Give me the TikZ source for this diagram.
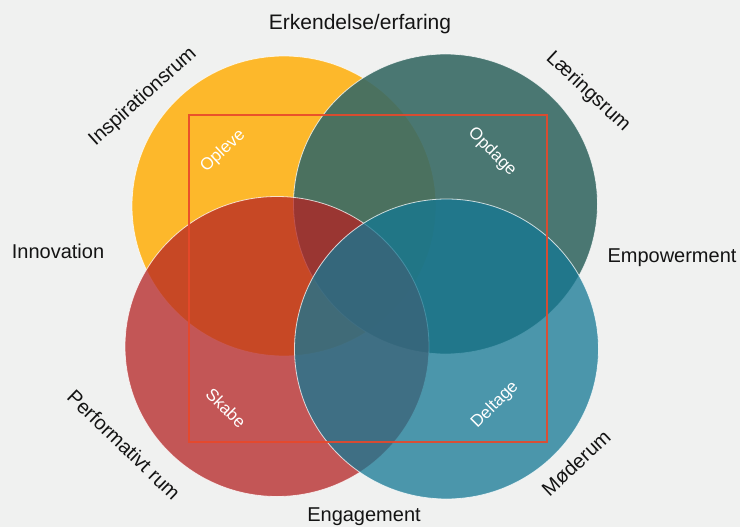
\documentclass[tikz,border=0pt]{standalone}
\usepackage{fontspec}
\setmainfont{Liberation Sans}
\definecolor{bgc}{RGB}{240,241,240}
\definecolor{cyel}{RGB}{253,184,43}
\definecolor{cteal}{RGB}{56,106,101}
\definecolor{cred}{RGB}{181,35,35}
\definecolor{cblue}{RGB}{20,120,148}
\definecolor{crect}{RGB}{232,72,42}
\definecolor{ctext}{RGB}{20,20,20}
\begin{document}
\begin{tikzpicture}[x=1pt,y=-1pt,
  ring/.style={draw=white, draw opacity=0.75, line width=0.8pt},
  outerlab/.style={text=ctext, font=\fontsize{20}{24}\selectfont, inner sep=0pt},
  innerlab/.style={text=white, font=\fontsize{17}{20}\selectfont, inner sep=0pt}]
\fill[bgc] (0,0) rectangle (740,527);
\useasboundingbox (0,0) rectangle (740,527);
% circles
\path[ring, fill=cyel] (284,206) ellipse [x radius=152, y radius=150];
\path[ring, fill=cteal, fill opacity=0.9] (445.5,204) ellipse [x radius=152, y radius=150];
\path[ring, fill=cred, fill opacity=0.75] (277,346.5) ellipse [x radius=152, y radius=150];
\path[ring, fill=cblue, fill opacity=0.75] (446.5,349) ellipse [x radius=152, y radius=150];
% frame
\draw[crect, draw opacity=0.9, line width=1.2pt] (189,115) rectangle (547,442);
% outer labels
\node[outerlab, font=\fontsize{21}{24}\selectfont] (erk) at (360,24) {Erkendelse/erfaring};
\node[outerlab] (inn) at (58,251) {Innovation};
\node[outerlab] (emp) at (672,258) {Empowerment};
\node[outerlab] (eng) at (364,517) {Engagement};
\node[outerlab, rotate=42] (insp) at (143,97) {Inspirationsrum};
\node[outerlab, rotate=-43] (laer) at (588,92) {Læringsrum};
\node[outerlab, rotate=-44] (perf) at (124,445) {Performativt rum};
\node[outerlab, rotate=43] (mod) at (576,463) {Møderum};
% inner labels
\node[innerlab, rotate=43] (opl) at (223,151) {Opleve};
\node[innerlab, rotate=-45] (opd) at (492,152) {Opdage};
\node[innerlab, rotate=-45] (ska) at (226,408) {Skabe};
\node[innerlab, rotate=45] (del) at (495,405) {Deltage};
\end{tikzpicture}
\end{document}
